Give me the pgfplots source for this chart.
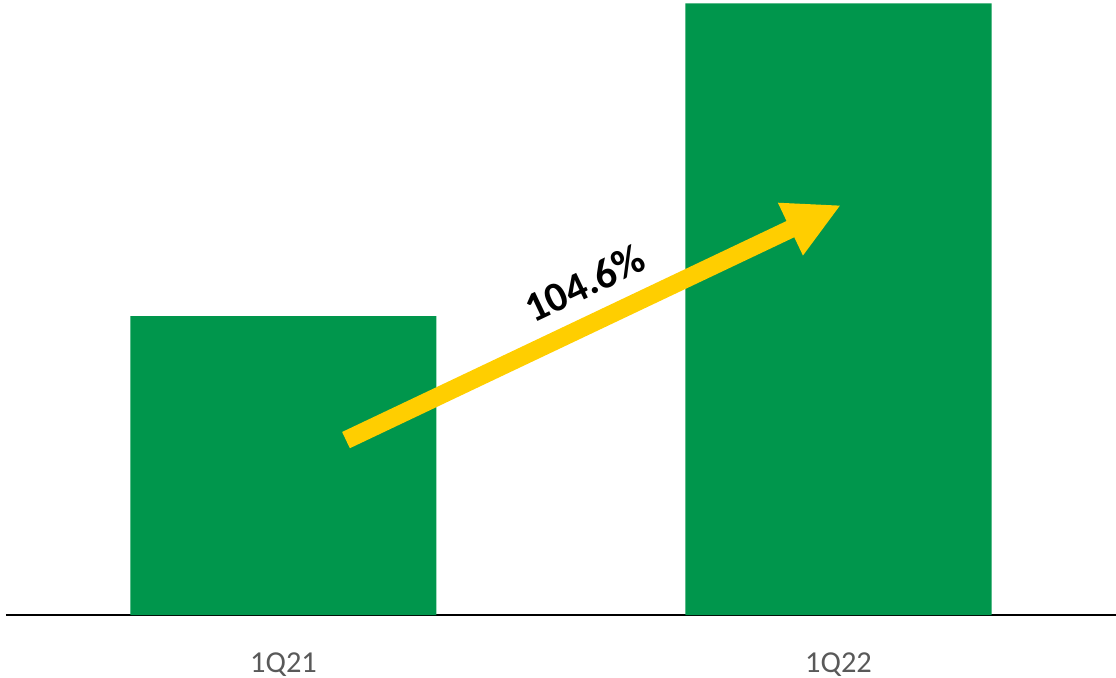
\documentclass[border=0pt]{standalone}
\usepackage{fontspec}
\setmainfont{Carlito}
\usepackage{pgfplots}
\pgfplotsset{compat=1.18}
\usetikzlibrary{arrows.meta}
\definecolor{barg}{RGB}{0,150,76}
\definecolor{arrowy}{RGB}{255,206,0}
\definecolor{lblgray}{RGB}{89,89,89}
\begin{document}
\begin{tikzpicture}
\useasboundingbox (-3pt,-31pt) rectangle (555pt,307.5pt);
\begin{axis}[
  at={(0pt,0pt)}, anchor=south west,
  scale only axis, width=555pt, height=307.5pt,
  xmin=-0.5, xmax=1.5, ymin=0, ymax=205.7,
  hide y axis,
  axis x line*=bottom,
  x axis line style={black, line width=0.8pt},
  xtick={0,1}, xticklabels={1Q21,1Q22},
  major tick length=0pt,
  xticklabel style={anchor=base, yshift=-28.5pt, font=\fontsize{15.2}{17}\selectfont, text=lblgray},
  clip=false,
  ybar, bar width=153pt,
]
\addplot[fill=barg, draw=none] coordinates {(0,100) (1,204.6)};
\draw[arrowy, line width=9pt, -{Triangle[length=28pt,width=27pt]}]
  (axis cs:0.1126,58.5) -- (axis cs:1.0045,137.1);
\node[rotate=25.4, inner sep=0pt, font=\bfseries\fontsize{21}{24}\selectfont] at (axis cs:0.543,111.0) {104.6\%};
\end{axis}
\end{tikzpicture}
\end{document}
